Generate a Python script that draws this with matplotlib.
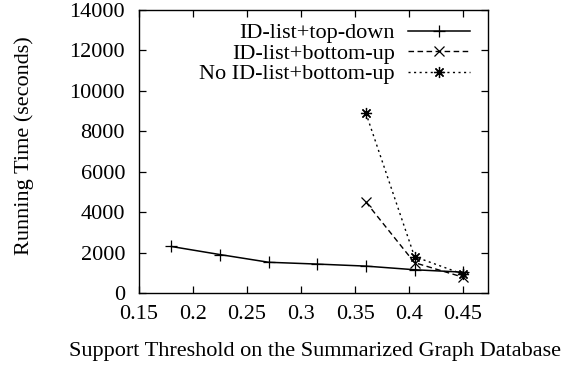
import matplotlib
matplotlib.use("Agg")
import matplotlib.pyplot as plt

# support thresholds and running times
x_topdown = [0.18, 0.225, 0.27, 0.315, 0.36, 0.405, 0.45]
t_topdown = [2300, 1900, 1520, 1430, 1330, 1150, 1030]

x_bottomup = [0.36, 0.405, 0.45]
t_bottomup = [4500, 1500, 780]

x_noid = [0.36, 0.405, 0.45]
t_noid = [8900, 1800, 930]

labels = ["ID-list+top-down", "ID-list+bottom-up", "No ID-list+bottom-up"]

plt.rcParams['font.family'] = ['Liberation Serif', 'DejaVu Serif']
plt.rcParams['font.size'] = 16

fig = plt.figure(figsize=(5.87, 3.69), dpi=100)
ax = fig.add_axes([0.2368, 0.206, 0.8313 - 0.2368, 0.9729 - 0.206])

star = (8, 2, 0)  # gnuplot style asterisk (+ and x together)
ax.plot(x_topdown, t_topdown, color='black', lw=1.1, marker='+', ms=8, mew=0.9, label=labels[0])
ax.plot(x_bottomup, t_bottomup, color='black', lw=1.0, ls=(0, (4, 2.5)), marker='x', ms=7, mew=0.9, label=labels[1])
ax.plot(x_noid, t_noid, color='black', lw=1.0, ls=(0, (1.5, 2.5)), marker=star, ms=8, mew=0.9, label=labels[2])

ax.set_xlim(0.15, 0.473)
ax.set_ylim(0, 14000)
ax.set_xticks([0.15, 0.2, 0.25, 0.3, 0.35, 0.4, 0.45])
ax.set_xticklabels(["0.15", "0.2", "0.25", "0.3", "0.35", "0.4", "0.45"])
ax.set_yticks(range(0, 14001, 2000))
ax.tick_params(direction='in', length=5, width=0.9, top=True, right=True)
ax.tick_params(axis='y', pad=10)
ax.tick_params(axis='x', pad=9)
for s in ax.spines.values():
    s.set_linewidth(1.0)

ax.set_xlabel("Support Threshold on the Summarized Graph Database")
ax.xaxis.set_label_coords(0.505, -0.172)
ax.set_ylabel("Running Time (seconds)")
ax.yaxis.set_label_coords(-0.30, 0.52)

ax.legend(loc='upper right', bbox_to_anchor=(0.948, 0.955), frameon=False, markerfirst=False,
          handlelength=2.8, labelspacing=0.0, borderpad=0, borderaxespad=0, handletextpad=0.57)

fig.savefig("out.png", dpi=100)
